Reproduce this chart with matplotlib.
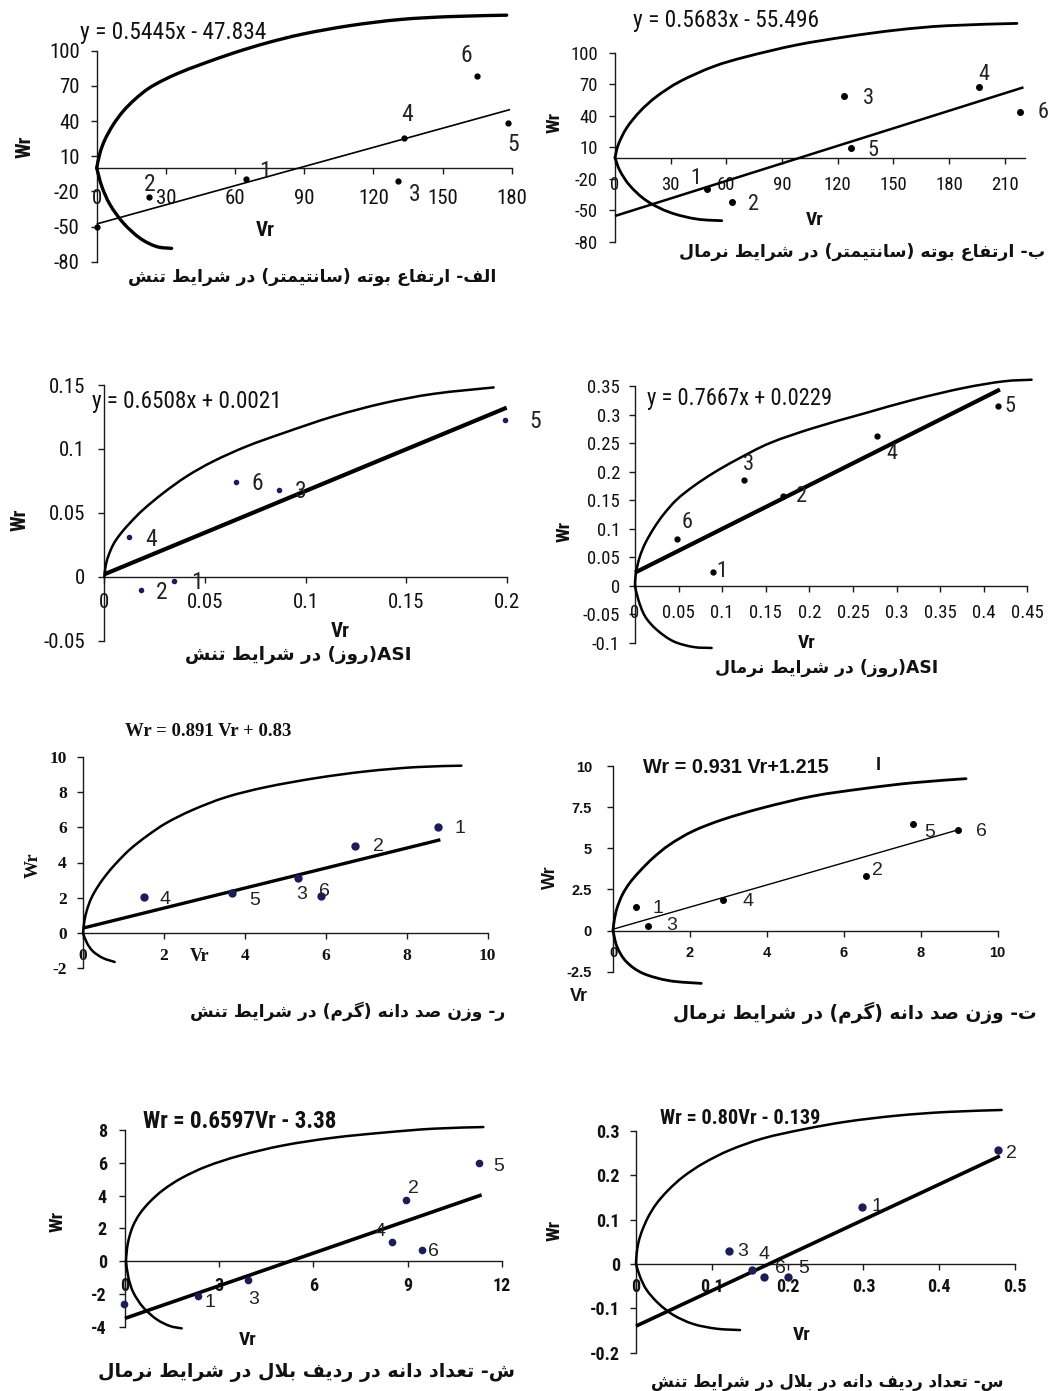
import numpy as np
import matplotlib
matplotlib.use("Agg")
import matplotlib.pyplot as plt
import matplotlib.font_manager as fm
from matplotlib.path import Path
from matplotlib.patches import PathPatch

plt.rcParams['axes.unicode_minus'] = False

# ---------------------------------------------------------------- data
# Panel 1 : plant height, stress
p1_vr = [64.8, 22.8, 130.8, 133.4, 178.6, 165.1, 0.0]
p1_wr = [-9.4, -24.9, -10.9, 25.7, 38.6, 78.6, -50.0]
p1_labels = ['1', '2', '3', '4', '5', '6', '']
p1_fit_vr = [0.0, 179.3]
p1_fit_wr = [-47.8, 49.8]
p1_upper_vr = [0, 1.45, 3.61, 7.23, 11.57, 16.63, 22.41, 28.92, 36.14, 44.82, 59.28, 73.73,
               89.64, 109.88, 131.57, 153.25, 177.83]
p1_upper_wr = [0, 12.9, 24.3, 37.1, 48.6, 58.6, 67.7, 74.9, 81.4, 88.0, 98.0, 106.6,
               114.3, 121.4, 126.6, 129.1, 130.3]
p1_lower_vr = [0, 2.2, 5.8, 11.6, 18.8, 26.0, 32.5]
p1_lower_wr = [0, -15.7, -31.4, -47.1, -60.0, -67.1, -68.6]
p1_xticks = [0, 30, 60, 90, 120, 150, 180]
p1_yticks = [-80, -50, -20, 10, 40, 70, 100]
p1_equation = "y = 0.5445x - 47.834"
p1_title = "الف- ارتفاع بوته (سانتیمتر) در شرایط تنش"

# Panel 2 : plant height, normal
p2_vr = [49.4, 62.9, 123.1, 195.8, 127.0, 218.3]
p2_wr = [-29.5, -42.6, 58.4, 66.9, 9.5, 43.3]
p2_labels = ['1', '2', '3', '4', '5', '6']
p2_fit_vr = [0.0, 220.0]
p2_fit_wr = [-55.5, 67.0]
p2_upper_vr = [0, 1.8, 6.3, 13.5, 22.5, 35.0, 53.0, 71.0, 97.9, 124.9, 151.8, 178.7, 216.5]
p2_upper_wr = [0, 12.6, 28.4, 44.2, 58.4, 72.6, 86.8, 96.3, 107.4, 115.3, 121.6, 125.7, 127.9]
p2_lower_vr = [0, 2.7, 8.1, 17.1, 29.6, 44.0, 57.5]
p2_lower_wr = [0, -12.6, -26.8, -41.1, -52.1, -58.4, -60.0]
p2_xticks = [0, 30, 60, 90, 120, 150, 180, 210]
p2_yticks = [-80, -50, -20, 10, 40, 70, 100]
p2_equation = "y = 0.5683x - 55.496"
p2_title = "ب- ارتفاع بوته (سانتیمتر) در شرایط نرمال"

# Panel 3 : ASI, stress
p3_vr = [0.0344, 0.0183, 0.0866, 0.0125, 0.1993, 0.0654]
p3_wr = [-0.0034, -0.0101, 0.0683, 0.0314, 0.1229, 0.0740]
p3_labels = ['1', '2', '3', '4', '5', '6']
p3_fit_vr = [0.0, 0.2]
p3_fit_wr = [0.0021, 0.1323]
p3_upper_vr = [0, 0.00066, 0.0020, 0.0045, 0.0078, 0.0128, 0.0194, 0.0294, 0.0410, 0.0542, 0.0708,
               0.0891, 0.1139, 0.1388, 0.1637, 0.1935]
p3_upper_wr = [0, 0.0086, 0.0164, 0.0255, 0.0332, 0.0423, 0.0527, 0.0657, 0.0787, 0.0904, 0.1021,
               0.1125, 0.1255, 0.1358, 0.1431, 0.1481]
p3_lower_vr = []
p3_lower_wr = []
p3_xticks = [0, 0.05, 0.1, 0.15, 0.2]
p3_xticklabels = ['0', '0.05', '0.1', '0.15', '0.2']
p3_yticks = [-0.05, 0, 0.05, 0.1, 0.15]
p3_yticklabels = ['-0.05', '0', '0.05', '0.1', '0.15']
p3_equation = "y = 0.6508x + 0.0021"
p3_title = "ASI(روز) در شرایط تنش"

# Panel 4 : ASI, normal
p4_vr = [0.0891, 0.1701, 0.1250, 0.2771, 0.4167, 0.0486]
p4_wr = [0.0240, 0.1565, 0.1846, 0.2617, 0.3143, 0.0824]
p4_labels = ['1', '2', '3', '4', '5', '6']
p4_fit_vr = [0.0, 0.4186]
p4_fit_wr = [0.0229, 0.3438]
p4_upper_vr = [0, 0.0010, 0.0054, 0.0119, 0.0218, 0.0325, 0.0478, 0.0669, 0.0898, 0.1166, 0.1548,
               0.2045, 0.2618, 0.3192, 0.3765, 0.4224, 0.4549]
p4_upper_wr = [0, 0.0222, 0.0502, 0.0748, 0.1011, 0.1244, 0.1507, 0.1741, 0.1974, 0.2208, 0.2500,
               0.2763, 0.3014, 0.3259, 0.3464, 0.3581, 0.3610]
p4_lower_vr = [0, 0.0038, 0.0115, 0.0248, 0.0440, 0.0669, 0.0879]
p4_lower_wr = [0, -0.0245, -0.0537, -0.0771, -0.0975, -0.1075, -0.1092]
p4_xticks = [0, 0.05, 0.1, 0.15, 0.2, 0.25, 0.3, 0.35, 0.4, 0.45]
p4_xticklabels = ['0', '0.05', '0.1', '0.15', '0.2', '0.25', '0.3', '0.35', '0.4', '0.45']
p4_yticks = [-0.1, -0.05, 0, 0.05, 0.1, 0.15, 0.2, 0.25, 0.3, 0.35]
p4_yticklabels = ['-0.1', '-0.05', '0', '0.05', '0.1', '0.15', '0.2', '0.25', '0.3', '0.35']
p4_equation = "y = 0.7667x + 0.0229"
p4_title = "ASI(روز) در شرایط نرمال"

# Panel 5 : 100-kernel weight, stress
p5_vr = [8.76, 6.73, 5.31, 1.50, 3.67, 5.89]
p5_wr = [6.01, 4.91, 3.12, 2.02, 2.27, 2.08]
p5_labels = ['1', '2', '3', '4', '5', '6']
p5_fit_vr = [0.0, 8.83]
p5_fit_wr = [0.28, 5.29]
p5_upper_vr = [0, 0.033, 0.099, 0.206, 0.371, 0.577, 0.824, 1.153, 1.565, 2.059, 2.718, 3.542,
               4.530, 5.766, 7.002, 8.237, 9.349]
p5_upper_wr = [0, 0.66, 1.32, 1.98, 2.65, 3.31, 3.97, 4.73, 5.48, 6.24, 6.99, 7.71,
               8.28, 8.79, 9.17, 9.41, 9.49]
p5_lower_vr = [0, 0.099, 0.247, 0.494, 0.783]
p5_lower_wr = [0, -0.57, -1.04, -1.42, -1.64]
p5_xticks = [0, 2, 4, 6, 8, 10]
p5_yticks = [-2, 0, 2, 4, 6, 8, 10]
p5_equation = "Wr = 0.891 Vr + 0.83"
p5_title = "ر- وزن صد دانه (گرم) در شرایط تنش"

# Panel 6 : 100-kernel weight, normal
p6_vr = [0.59, 6.58, 0.91, 2.87, 7.81, 8.96]
p6_wr = [1.42, 3.33, 0.30, 1.87, 6.48, 6.14]
p6_labels = ['1', '2', '3', '4', '5', '6']
p6_fit_vr = [0.0, 9.0]
p6_fit_wr = [0.08, 6.14]
p6_upper_vr = [0, 0.035, 0.104, 0.242, 0.433, 0.693, 1.039, 1.472, 2.078, 2.857, 3.896, 5.195,
               6.494, 7.792, 9.177]
p6_upper_wr = [0, 0.65, 1.36, 2.17, 2.89, 3.60, 4.41, 5.22, 6.04, 6.75, 7.46, 8.17,
               8.62, 8.98, 9.23]
p6_lower_vr = [0, 0.104, 0.346, 0.779, 1.472, 2.294]
p6_lower_wr = [0, -0.98, -1.89, -2.60, -3.05, -3.21]
p6_xticks = [0, 2, 4, 6, 8, 10]
p6_yticks = [-2.5, 0, 2.5, 5, 7.5, 10]
p6_yticklabels = ['-2.5', '0', '2.5', '5', '7.5', '10']
p6_equation = "Wr = 0.931 Vr+1.215"
p6_extra = "I"
p6_title = "ت- وزن صد دانه (گرم) در شرایط نرمال"

# Panel 7 : kernels per row, normal
p7_vr = [2.34, 8.95, 3.93, 8.52, 11.28, 9.45, -0.03]
p7_wr = [-2.11, 3.73, -1.15, 1.17, 5.99, 0.70, -2.63]
p7_labels = ['1', '2', '3', '4', '5', '6', '']
p7_fit_vr = [0.0, 11.36]
p7_fit_wr = [-3.49, 4.04]
p7_upper_vr = [0.032, 0.064, 0.138, 0.265, 0.478, 0.796, 1.221, 1.805, 2.602, 3.664, 5.044,
               6.637, 8.230, 9.823, 11.415]
p7_upper_wr = [0, 0.76, 1.48, 2.19, 2.91, 3.63, 4.35, 5.07, 5.78, 6.44, 7.06,
               7.53, 7.84, 8.08, 8.18]
p7_lower_vr = [0.032, 0.106, 0.265, 0.584, 1.009, 1.434, 1.805]
p7_lower_wr = [0, -0.98, -1.91, -2.83, -3.55, -3.96, -4.10]
p7_xticks = [0, 3, 6, 9, 12]
p7_yticks = [-4, -2, 0, 2, 4, 6, 8]
p7_equation = "Wr = 0.6597Vr - 3.38"
p7_title = "ش- تعداد دانه در ردیف بلال در شرایط نرمال"

# Panel 8 : rows per ear, stress
p8_vr = [0.2986, 0.4770, 0.1227, 0.1526, 0.2010, 0.1693]
p8_wr = [0.1293, 0.2570, 0.0301, -0.0135, -0.0301, -0.0286]
p8_labels = ['1', '2', '3', '4', '5', '6']
p8_fit_vr = [0.0, 0.480]
p8_fit_wr = [-0.140, 0.2436]
p8_upper_vr = [0, 0.0009, 0.0035, 0.0084, 0.0163, 0.0273, 0.0427, 0.0624, 0.0888, 0.1240, 0.1680,
               0.2208, 0.2779, 0.3439, 0.4099, 0.4824]
p8_upper_wr = [0, 0.0241, 0.0504, 0.0767, 0.1068, 0.1368, 0.1669, 0.1970, 0.2271, 0.2571, 0.2835,
               0.3038, 0.3211, 0.3346, 0.3429, 0.3474]
p8_lower_vr = [0, 0.0053, 0.0141, 0.0295, 0.0493, 0.0756, 0.1064, 0.1372]
p8_lower_wr = [0, -0.0286, -0.0586, -0.0887, -0.1150, -0.1353, -0.1459, -0.1489]
p8_xticks = [0, 0.1, 0.2, 0.3, 0.4, 0.5]
p8_xticklabels = ['0', '0.1', '0.2', '0.3', '0.4', '0.5']
p8_yticks = [-0.2, -0.1, 0, 0.1, 0.2, 0.3]
p8_yticklabels = ['-0.2', '-0.1', '0', '0.1', '0.2', '0.3']
p8_equation = "Wr = 0.80Vr - 0.139"
p8_title = "س- تعداد ردیف دانه در بلال در شرایط تنش"

x_label = "Vr"
y_label = "Wr"

# ---------------------------------------------------------------- helpers
_FORMS = {
    'ا': ('\ufe8d', '\ufe8e', None, None),
    'ب': ('\ufe8f', '\ufe90', '\ufe91', '\ufe92'),
    'ت': ('\ufe95', '\ufe96', '\ufe97', '\ufe98'),
    'د': ('\ufea9', '\ufeaa', None, None),
    'ر': ('\ufead', '\ufeae', None, None),
    'ز': ('\ufeaf', '\ufeb0', None, None),
    'س': ('\ufeb1', '\ufeb2', '\ufeb3', '\ufeb4'),
    'ش': ('\ufeb5', '\ufeb6', '\ufeb7', '\ufeb8'),
    'ص': ('\ufeb9', '\ufeba', '\ufebb', '\ufebc'),
    'ط': ('\ufec1', '\ufec2', '\ufec3', '\ufec4'),
    'ع': ('\ufec9', '\ufeca', '\ufecb', '\ufecc'),
    'ف': ('\ufed1', '\ufed2', '\ufed3', '\ufed4'),
    'ل': ('\ufedd', '\ufede', '\ufedf', '\ufee0'),
    'م': ('\ufee1', '\ufee2', '\ufee3', '\ufee4'),
    'ن': ('\ufee5', '\ufee6', '\ufee7', '\ufee8'),
    'ه': ('\ufee9', '\ufeea', '\ufeeb', '\ufeec'),
    'و': ('\ufeed', '\ufeee', None, None),
    'ی': ('\ufbfc', '\ufbfd', '\ufbfe', '\ufbff'),
    'گ': ('\ufb92', '\ufb93', '\ufb94', '\ufb95'),
}


def rtl(text):
    """Contextual shaping + visual ordering for a Persian line."""
    def dual(c):
        return c in _FORMS and _FORMS[c][2] is not None
    out = []
    n = len(text)
    i = 0
    while i < n:
        c = text[i]
        if c in _FORMS:
            pj = i > 0 and dual(text[i - 1])
            if c == 'ل' and i + 1 < n and text[i + 1] == 'ا':
                out.append('\ufefc' if pj else '\ufefb')
                i += 2
                continue
            nj = dual(c) and i + 1 < n and text[i + 1] in _FORMS
            iso, fin, ini, med = _FORMS[c]
            out.append(med if (pj and nj) else fin if pj else ini if nj else iso)
        else:
            out.append(c)
        i += 1
    vis = out[::-1]
    res, run = [], []
    for ch in vis:
        if ch.isascii() and (ch.isalnum() or ch == '.'):
            run.append(ch)
        else:
            if run:
                res.extend(run[::-1])
                run = []
            res.append({'(': ')', ')': '('}.get(ch, ch))
    if run:
        res.extend(run[::-1])
    return ''.join(res)


def smooth_path(xs, ys):
    pts = np.column_stack([xs, ys]).astype(float)
    n = len(pts)
    verts = [pts[0]]
    codes = [Path.MOVETO]
    for i in range(n - 1):
        p0 = pts[i - 1] if i > 0 else pts[i]
        p1, p2 = pts[i], pts[i + 1]
        p3 = pts[i + 2] if i + 2 < n else pts[i + 1]
        verts += [p1 + (p2 - p0) / 6.0, p2 - (p3 - p1) / 6.0, p2]
        codes += [Path.CURVE4] * 3
    return Path(verts, codes)


# pick a condensed sans if one is installed (the reference uses Arial Narrow)
_names = {f.name for f in fm.fontManager.ttflist}
_cond = {f.name for f in fm.fontManager.ttflist
         if (f.stretch in ('condensed', 'semi-condensed', 'extra-condensed'))
         or (isinstance(f.stretch, int) and f.stretch < 500)}
if 'Liberation Sans Narrow' in _names:
    NARROW, NSTRETCH = ['Liberation Sans Narrow', 'DejaVu Sans'], 'normal'
elif 'Roboto Condensed' in _names:
    NARROW, NSTRETCH = ['Roboto Condensed', 'DejaVu Sans'], 'normal'
elif 'DejaVu Sans' in _cond:
    NARROW, NSTRETCH = ['DejaVu Sans'], 'condensed'
else:
    NARROW, NSTRETCH = ['Liberation Sans', 'DejaVu Sans'], 'normal'

SANS = ['Liberation Sans', 'DejaVu Sans']
SERIF = ['Liberation Serif', 'DejaVu Serif']
ARAB = ['DejaVu Sans']
NAVY = '#1c1c5a'


def stretch_of(fam):
    return NSTRETCH if fam is NARROW else 'normal'


W, H = 1050, 1391
fig = plt.figure(figsize=(W / 100, H / 100), dpi=100)
fig.patch.set_facecolor('white')
PX = 100 / 72.0


def ticklabels(v):
    return [('%g' % t) for t in v]


panels = [
    dict(vr=p1_vr, wr=p1_wr, labels=p1_labels, fx=p1_fit_vr, fy=p1_fit_wr,
         ux=p1_upper_vr, uy=p1_upper_wr, lx=p1_lower_vr, ly=p1_lower_wr,
         xlim=(0, 180), ylim=(-80, 100), xt=p1_xticks, xtl=ticklabels(p1_xticks),
         yt=p1_yticks, ytl=ticklabels(p1_yticks), eq=p1_equation, title=p1_title),
    dict(vr=p2_vr, wr=p2_wr, labels=p2_labels, fx=p2_fit_vr, fy=p2_fit_wr,
         ux=p2_upper_vr, uy=p2_upper_wr, lx=p2_lower_vr, ly=p2_lower_wr,
         xlim=(0, 221), ylim=(-80, 100), xt=p2_xticks, xtl=ticklabels(p2_xticks),
         yt=p2_yticks, ytl=ticklabels(p2_yticks), eq=p2_equation, title=p2_title),
    dict(vr=p3_vr, wr=p3_wr, labels=p3_labels, fx=p3_fit_vr, fy=p3_fit_wr,
         ux=p3_upper_vr, uy=p3_upper_wr, lx=p3_lower_vr, ly=p3_lower_wr,
         xlim=(0, 0.2), ylim=(-0.05, 0.15), xt=p3_xticks, xtl=p3_xticklabels,
         yt=p3_yticks, ytl=p3_yticklabels, eq=p3_equation, title=p3_title),
    dict(vr=p4_vr, wr=p4_wr, labels=p4_labels, fx=p4_fit_vr, fy=p4_fit_wr,
         ux=p4_upper_vr, uy=p4_upper_wr, lx=p4_lower_vr, ly=p4_lower_wr,
         xlim=(0, 0.45), ylim=(-0.1, 0.35), xt=p4_xticks, xtl=p4_xticklabels,
         yt=p4_yticks, ytl=p4_yticklabels, eq=p4_equation, title=p4_title),
    dict(vr=p5_vr, wr=p5_wr, labels=p5_labels, fx=p5_fit_vr, fy=p5_fit_wr,
         ux=p5_upper_vr, uy=p5_upper_wr, lx=p5_lower_vr, ly=p5_lower_wr,
         xlim=(0, 10), ylim=(-2, 10), xt=p5_xticks, xtl=ticklabels(p5_xticks),
         yt=p5_yticks, ytl=ticklabels(p5_yticks), eq=p5_equation, title=p5_title),
    dict(vr=p6_vr, wr=p6_wr, labels=p6_labels, fx=p6_fit_vr, fy=p6_fit_wr,
         ux=p6_upper_vr, uy=p6_upper_wr, lx=p6_lower_vr, ly=p6_lower_wr,
         xlim=(0, 10), ylim=(-2.5, 10), xt=p6_xticks, xtl=ticklabels(p6_xticks),
         yt=p6_yticks, ytl=p6_yticklabels, eq=p6_equation, title=p6_title),
    dict(vr=p7_vr, wr=p7_wr, labels=p7_labels, fx=p7_fit_vr, fy=p7_fit_wr,
         ux=p7_upper_vr, uy=p7_upper_wr, lx=p7_lower_vr, ly=p7_lower_wr,
         xlim=(0, 12), ylim=(-4, 8), xt=p7_xticks, xtl=ticklabels(p7_xticks),
         yt=p7_yticks, ytl=ticklabels(p7_yticks), eq=p7_equation, title=p7_title),
    dict(vr=p8_vr, wr=p8_wr, labels=p8_labels, fx=p8_fit_vr, fy=p8_fit_wr,
         ux=p8_upper_vr, uy=p8_upper_wr, lx=p8_lower_vr, ly=p8_lower_wr,
         xlim=(0, 0.5), ylim=(-0.2, 0.3), xt=p8_xticks, xtl=p8_xticklabels,
         yt=p8_yticks, ytl=p8_yticklabels, eq=p8_equation, title=p8_title),
]

# ---------------------------------------------------------------- layout (pixels)
layout = [
    dict(box=(96.7, 511.7, 50.7, 261.7), tfam=NARROW, tw='normal', tfs=15, xoff=28.7, ygap=17,
         eq=(80, 33, 187), eqfam=NARROW, eqw='normal', title=(312, 277, 370),
         wr=(25, 147), vr=(265, 230), axfam=NARROW, axfs=15,
         lfam=NARROW, lfs=17, ms=3.5, dot='black', clw=2.4, flw=1.2,
         offs=[(19, 7.6), (0.7, 12.3), (16.7, -14), (3, 23), (5, -21.7), (-10.7, 20), (0, 0)]),
    dict(box=(615, 1025.3, 52.7, 241.7), tfam=NARROW, tw='normal', tfs=13.5, xoff=25, ygap=17,
         eq=(633, 20, 187), eqfam=NARROW, eqw='normal', title=(862, 252, 367),
         wr=(555, 122), vr=(815, 220), axfam=NARROW, axfs=14,
         lfam=NARROW, lfs=16, ms=4, dot='black', clw=2.0, flw=1.8,
         offs=[(-11, 10), (21.7, -2.3), (25, -2.3), (5, 12.7), (22, -2.7), (23.3, -0.7)]),
    dict(box=(104.3, 506.7, 385, 641), tfam=NARROW, tw='normal', tfs=15, xoff=24, ygap=19,
         eq=(92, 401.7, 191), eqfam=NARROW, eqw='normal', title=(298, 655, 227),
         wr=(20, 520), vr=(340, 631.7), axfam=NARROW, axfs=15,
         lfam=NARROW, lfs=17, ms=3, dot=NAVY, clw=1.8, flw=3.0,
         offs=[(23.3, -1.3), (20.7, -2.7), (21.7, -1.7), (21.7, -2.7), (30, -2), (21, -1.3)]),
    dict(box=(635, 1027.3, 386, 642.7), tfam=NARROW, tw='normal', tfs=13.5, xoff=25.7, ygap=15,
         eq=(646.7, 398.3, 186), eqfam=NARROW, eqw='normal', title=(827, 668, 223),
         wr=(565, 531.7), vr=(806.7, 643.3), axfam=NARROW, axfs=14,
         lfam=NARROW, lfs=16, ms=3.5, dot='black', clw=1.8, flw=3.0,
         offs=[(9, 0.7), (18.3, 0), (4.3, 15.7), (15, -16.7), (11.7, 0), (9.3, 15.7)]),
    dict(box=(83, 487.7, 756.7, 968.3), tfam=SERIF, tw='bold', tfs=12.5, xoff=21.7, ygap=16,
         eq=(125, 731.7, 167), eqfam=SERIF, eqw='bold', title=(348, 1011.7, 317),
         wr=(33, 865), vr=(200, 956.7), axfam=SERIF, axfs=13,
         lfam=SANS, lfs=14, ms=5, dot=NAVY, clw=1.8, flw=2.4,
         offs=[(22.3, -1), (22.7, 0), (3.3, -16.7), (21.7, -2.3), (22.7, -7.3), (3.3, 5)]),
    dict(box=(613, 997.7, 766, 971.7), tfam=SANS, tw='bold', tfs=10.5, xoff=21, ygap=21,
         eq=(643, 767.3, 185), eqfam=SANS, eqw='bold', title=(855, 1013, 364),
         wr=(550, 876.7), vr=(579, 996.7), axfam=SANS, axfs=13,
         lfam=SANS, lfs=14, ms=4, dot='black', clw=2.0, flw=1.0,
         offs=[(22.3, -1), (11.7, 5.3), (23.3, 0), (24.3, -1.7), (16, -9), (23.3, -1.7)],
         extra=(878, 765)),
    dict(box=(125, 501.7, 1130, 1326.7), tfam=NARROW, tw='bold', tfs=13, xoff=22.6, ygap=18,
         eq=(143, 1121.7, 194), eqfam=NARROW, eqw='bold', title=(306, 1373, 418),
         wr=(58, 1221.7), vr=(248, 1340), axfam=NARROW, axfs=14,
         lfam=SANS, lfs=14, ms=4.5, dot=NAVY, clw=1.8, flw=2.6,
         offs=[(11.7, -6.7), (7.3, 11.7), (5, -20), (-12.3, 10.7), (19.3, -3.3), (11.7, -2.3), (0, 0)]),
    dict(box=(636, 1015, 1131, 1352.7), tfam=NARROW, tw='bold', tfs=13, xoff=21, ygap=16,
         eq=(660, 1118.3, 160), eqfam=NARROW, eqw='bold', title=(827, 1381.7, 353),
         wr=(555, 1230), vr=(801.7, 1335), axfam=NARROW, axfs=14,
         lfam=SANS, lfs=14, ms=5, dot=NAVY, clw=1.8, flw=2.6,
         offs=[(14.3, 0), (14, -3.3), (13.3, -1), (12.7, 16), (15, 8.5), (16.3, 8)]),
]

TICK_LEN = 4.0  # points
fit_texts = []

for d, L in zip(panels, layout):
    l, r, t, b = L['box']
    ax = fig.add_axes([l / W, 1 - b / H, (r - l) / W, (b - t) / H])
    ax.set_xlim(d['xlim'])
    ax.set_ylim(d['ylim'])
    ax.patch.set_visible(False)
    ax.spines['top'].set_visible(False)
    ax.spines['right'].set_visible(False)
    ax.spines['bottom'].set_position(('data', 0))
    for s in ('left', 'bottom'):
        ax.spines[s].set_linewidth(1.0)
        ax.spines[s].set_color('#1a1a1a')
    ax.set_xticks(d['xt'])
    ax.set_xticklabels(d['xtl'])
    ax.set_yticks(d['yt'])
    ax.set_yticklabels(d['ytl'])
    fs = L['tfs']
    tl_px = TICK_LEN * PX
    xpad = (L['xoff'] - tl_px - 0.37 * fs * PX) / PX
    ypad = (L['ygap'] - tl_px) / PX
    ax.tick_params(axis='x', direction='out', length=TICK_LEN, width=1.0, color='#1a1a1a', pad=xpad)
    ax.tick_params(axis='y', direction='out', length=TICK_LEN, width=1.0, color='#1a1a1a', pad=ypad)
    for lab in ax.get_xticklabels() + ax.get_yticklabels():
        lab.set_family(L['tfam'])
        lab.set_stretch(stretch_of(L['tfam']))
        lab.set_weight(L['tw'])
        lab.set_size(fs)
        lab.set_color('#111111')

    # limiting parabola
    ax.add_patch(PathPatch(smooth_path(d['ux'], d['uy']), fill=False, lw=L['clw'],
                           color='black', clip_on=False, capstyle='round', zorder=3))
    if len(d['lx']):
        ax.add_patch(PathPatch(smooth_path(d['lx'], d['ly']), fill=False, lw=L['clw'],
                               color='black', clip_on=False, capstyle='round', zorder=3))
    # regression line
    ax.plot(d['fx'], d['fy'], color='black', lw=L['flw'], clip_on=False, zorder=4,
            solid_capstyle='butt')
    # parents
    ax.plot(d['vr'], d['wr'], 'o', ms=L['ms'], color=L['dot'], mec=L['dot'],
            clip_on=False, zorder=5)
    for x, y, lab, off in zip(d['vr'], d['wr'], d['labels'], L['offs']):
        if lab:
            ax.annotate(lab, (x, y), xytext=off, textcoords='offset pixels',
                        ha='center', va='center', fontsize=L['lfs'],
                        family=L['lfam'], fontstretch=stretch_of(L['lfam']),
                        color='#222222', zorder=6, annotation_clip=False)

    # texts
    ex, ey, ew = L['eq']
    te = fig.text(ex / W, 1 - ey / H, d['eq'], ha='left', va='center',
                  family=L['eqfam'], fontstretch=stretch_of(L['eqfam']),
                  weight=L['eqw'], fontsize=14, color='#111111')
    fit_texts.append((te, ew))
    cx, cy, cw = L['title']
    tt = fig.text(cx / W, 1 - cy / H, rtl(d['title']), ha='center', va='center',
                  family=ARAB, weight='bold', fontsize=14, color='#111111')
    fit_texts.append((tt, cw))
    wx, wy = L['wr']
    fig.text(wx / W, 1 - wy / H, y_label, rotation=90, ha='center', va='center',
             family=L['axfam'], fontstretch=stretch_of(L['axfam']),
             weight='bold', fontsize=L['axfs'], color='#111111')
    vx, vy = L['vr']
    fig.text(vx / W, 1 - vy / H, x_label, ha='center', va='center',
             family=L['axfam'], fontstretch=stretch_of(L['axfam']),
             weight='bold', fontsize=L['axfs'], color='#111111')
    if 'extra' in L:
        qx, qy = L['extra']
        fig.text(qx / W, 1 - qy / H, p6_extra, ha='center', va='center',
                 family=SANS, weight='bold', fontsize=13, color='#111111')

# scale equations and titles to the widths they take in the reference
renderer = fig.canvas.get_renderer()
for txt, target in fit_texts:
    w = txt.get_window_extent(renderer).width
    txt.set_fontsize(txt.get_fontsize() * target / w)

fig.savefig('out.png', dpi=100, facecolor='white')
